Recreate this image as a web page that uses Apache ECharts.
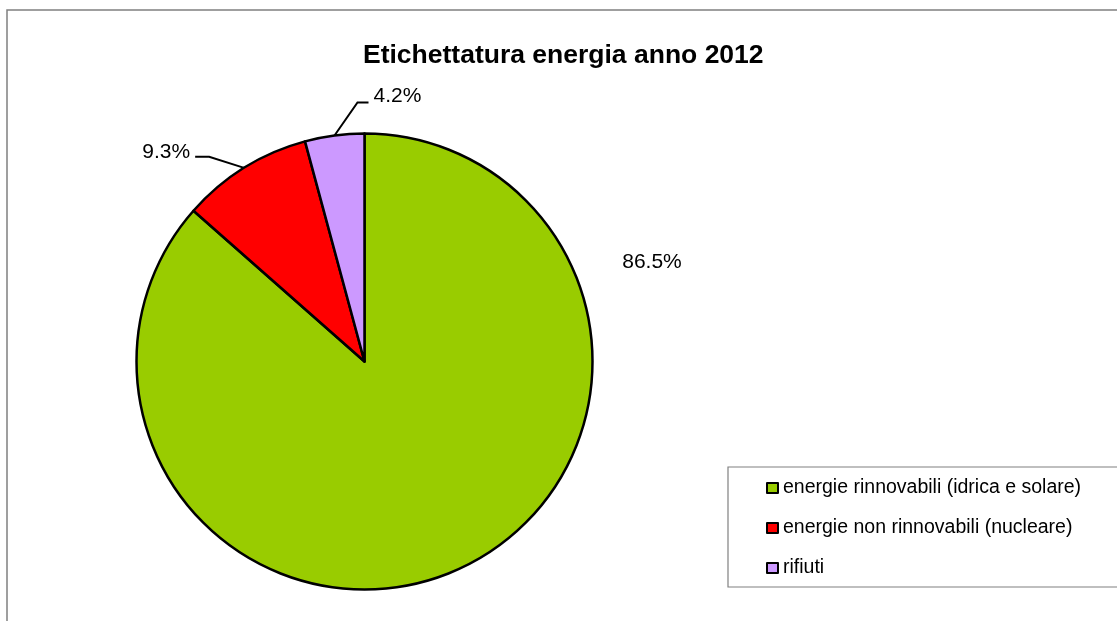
<!DOCTYPE html>
<html>
<head>
<meta charset="utf-8">
<script src="https://cdn.jsdelivr.net/npm/echarts@6/dist/echarts.min.js"></script>
<style>
html,body{margin:0;padding:0;background:#fff;}
#chart{width:1117px;height:621px;}
</style>
</head>
<body>
<div id="chart"></div>
<script>
// ---- data ----
const chartTitle = 'Etichettatura energia anno 2012';
const categories = [
  'energie rinnovabili (idrica e solare)',
  'energie non rinnovabili (nucleare)',
  'rifiuti'
];
const values = [86.5, 9.3, 4.2];
const colors = ['#99CC00', '#FF0000', '#CC99FF'];

// ---- chart ----
const FONT = '"Liberation Sans", Arial, sans-serif';
const chart = echarts.init(document.getElementById('chart'));

const seriesData = categories.map((name, i) => ({
  name: name,
  value: values[i],
  itemStyle: { color: colors[i] },
  labelLine: { show: i !== 0 }
}));

chart.setOption({
  animation: false,
  backgroundColor: '#fff',
  graphic: [{
    type: 'rect',
    shape: { x: 7, y: 10, width: 1300, height: 800 },
    style: { fill: 'none', stroke: '#808080', lineWidth: 1.5 },
    silent: true,
    z: -1
  }],
  title: {
    text: chartTitle,
    left: 358,
    top: 37,
    textStyle: { fontFamily: FONT, fontSize: 26.5, fontWeight: 'bold', color: '#000' }
  },
  legend: {
    orient: 'vertical',
    left: 728,
    top: 467,
    padding: [11, 40, 9, 38],
    itemGap: 20,
    itemWidth: 11,
    itemHeight: 10,
    icon: 'rect',
    borderColor: '#808080',
    borderWidth: 1.2,
    itemStyle: { borderColor: '#000', borderWidth: 2 },
    textStyle: { fontFamily: FONT, fontSize: 19.5, color: '#000', lineHeight: 20 },
    data: categories
  },
  series: [{
    type: 'pie',
    center: [364.5, 361.5],
    radius: 228,
    startAngle: 90,
    clockwise: true,
    percentPrecision: 1,
    itemStyle: { borderColor: '#000', borderWidth: 2.5 },
    label: {
      show: true,
      position: 'outside',
      formatter: '{d}%',
      fontFamily: FONT,
      fontSize: 21,
      color: '#000'
    },
    labelLine: {
      show: true,
      lineStyle: { color: '#000', width: 2 }
    },
    emphasis: { disabled: true },
    data: seriesData,
    labelLayout: function (p) {
      const s = p.labelLinePoints ? p.labelLinePoints[0] : [0, 0];
      if (p.dataIndex === 0) {
        return { x: 364.5 + 287.5, y: 361.5 - 99, align: 'center', verticalAlign: 'middle' };
      }
      if (p.dataIndex === 1) {
        return {
          x: s[0] - 54, y: s[1] - 16, align: 'right', verticalAlign: 'middle',
          labelLinePoints: [[s[0], s[1]], [s[0] - 35, s[1] - 11], [s[0] - 49, s[1] - 11]]
        };
      }
      return {
        x: s[0] + 39, y: s[1] - 39, align: 'left', verticalAlign: 'middle',
        labelLinePoints: [[s[0], s[1]], [s[0] + 23, s[1] - 33], [s[0] + 34, s[1] - 33]]
      };
    }
  }]
});
</script>
</body>
</html>
